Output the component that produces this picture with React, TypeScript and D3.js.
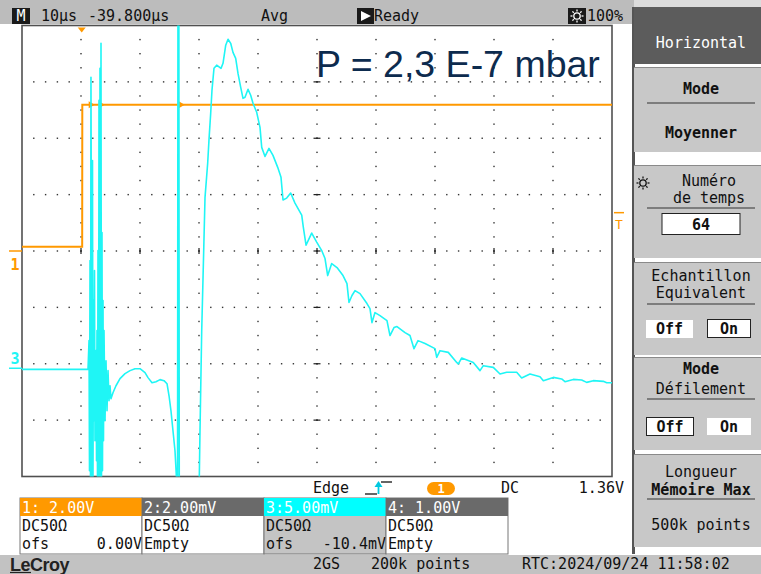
import React from "react";
import * as d3 from "d3";

// ---------------- data ----------------
const timeDomain: [number, number] = [-10, 90]; // µs, 10 µs/div
const divDomain: [number, number] = [-4, 4];

const ch1VoltsPerDiv = 2;
const ch1Offset = 0;
const ch3MilliVoltsPerDiv = 5;
const ch3Offset = -10.4;
const triggerLevel = 1.36;
const triggerTime = 0.12;

const ch1Time = [-10, 0.2, 0.22, 90];
const ch1Volt = [0.15, 0.15, 5.19, 5.19];
const ch1GlitchTimes = [1.81, 3.51, 17.07];

const ch3Time = [
  -10, -5, 0, 1.19,
  1.36, 1.44, 1.53, 1.61, 1.69, 1.78, 1.86, 1.95, 2.03, 2.12, 2.2, 2.29, 2.37, 2.54, 2.63, 2.71,
  2.8, 2.88, 2.97, 3.05, 3.14, 3.22, 3.31, 3.39, 3.47, 3.56, 3.64, 3.73, 3.81, 3.9, 4.07, 4.24,
  4.41, 4.58, 4.75, 4.92, 5.08, 5.42, 5.93, 6.61, 7.46, 8.31, 9.15, 10.0, 10.85, 11.36, 12.03,
  12.71, 13.39, 14.07, 14.58, 14.92, 15.25, 15.59, 15.93, 16.19, 16.36, 16.44, 16.58, 16.66,
  19.83, 20.05, 20.17, 20.46, 20.68, 21.02, 21.47, 21.69, 21.98, 22.2, 22.54, 23.0, 23.73, 24.07,
  24.53, 24.92, 25.37, 25.76, 26.22, 26.61, 27.07, 27.46, 27.8, 28.31, 28.76, 29.15, 29.78,
  30.34, 30.63, 31.19, 31.86, 32.54, 33.34, 33.9, 34.24, 34.86, 35.54, 36.27, 37.41, 37.68,
  38.14, 39.1, 39.95, 40.8, 41.36, 41.81, 42.49, 43.39, 44.41, 45.08, 45.42, 45.93, 46.44,
  47.29, 48.47, 48.98, 49.32, 49.83, 50.68, 51.86, 52.37, 53.05, 53.56, 54.92, 55.76, 56.44,
  57.12, 58.31, 60.0, 60.29, 60.85, 62.25, 63.68, 63.95, 64.53, 66.49, 67.63, 68.19, 69.88,
  71.02, 72.15, 73.85, 74.69, 76.1, 77.8, 78.36, 80.05, 81.47, 82.03, 83.44, 84.86, 85.71,
  86.83, 88.53, 89.1, 90.0,
];
const ch3MilliVolt = [
  -0.1, -0.1, -0.1, -0.1,
  2.45, -9.09, 9.55, -9.98, 25.8, 6.0, -10.5, 18.43, -10.5, 6.0, -4.65, 8.67, -6.43, 1.56, -8.2, 3.34,
  -10.5, 10.44, -10.5, 23.76, -10.5, 26.6, -10.5, 28.82, -10.5, 12.04, -9.09, 6.0, -6.43, 3.34, -4.65, 0.67,
  -3.77, -0.21, -2.88, -1.55, -2.7, -2.17, -1.55, -0.92, -0.48, -0.21, -0.04, -0.04, -0.39, -0.83, -1.28,
  -1.19, -1.01, -1.1, -1.37, -2.44, -3.77, -5.54, -7.32, -9.8, -13.5, 36, 36, -13.5,
  -13.5, -9.71, -5.54, 3.34, 7.97, 15.16, 18.18, 20.23, 22.61, 24.66, 26.6, 26.88, 26.6, 27.05,
  28.65, 29.18, 28.82, 28.02, 27.49, 26.15, 24.92, 23.94, 24.03, 24.74, 24.21, 23.5, 22.7,
  21.37, 19.59, 18.79, 19.5, 18.88, 17.82, 16.93, 14.92, 15.09, 15.54, 14.65, 13.59, 12.52,
  10.92, 11.99, 11.19, 10.44, 9.73, 8.22, 9.29, 8.93, 8.22, 7.51, 5.83, 6.45, 6.89,
  6.62, 5.74, 5.29, 4.05, 4.94, 4.67, 4.23, 2.9, 3.61, 3.7, 3.16, 2.9, 1.74,
  2.45, 2.19, 1.74, 0.97, 1.56, 1.41, 0.52, 0.38, 0.91, 0.52, -0.21, 0.23, 0.08,
  -0.51, -0.36, -0.36, -0.86, -0.51, -0.75, -1.1, -0.81, -0.95, -1.19, -0.99, -1.04, -1.25,
  -1.1, -1.16, -1.28, -1.28,
];

const channelHeaders = ["1: 2.00V", "2:2.00mV", "3:5.00mV", "4: 1.00V"];
const channelCoupling = ["DC50Ω", "DC50Ω", "DC50Ω", "DC50Ω"];
const channelOffsets = ["0.00V", "", "-10.4mV", ""];
const pressureLabel = "P = 2,3 E-7 mbar";

// ---------------- drawing ----------------
const MONO = "'DejaVu Sans Mono', monospace";
const ORANGE = "#ff9900";
const CYAN = "#1ff5f5";

function Sun({ cx, cy, color }: { cx: number; cy: number; color: string }) {
  const rays = d3.range(8).map((i) => {
    const a = (i * Math.PI) / 4;
    return (
      <line key={i} x1={cx + Math.cos(a) * 4.5} y1={cy + Math.sin(a) * 4.5}
        x2={cx + Math.cos(a) * 6.5} y2={cy + Math.sin(a) * 6.5} stroke={color} strokeWidth={1.3} />
    );
  });
  return (
    <g>
      <circle cx={cx} cy={cy} r={3.2} fill="none" stroke={color} strokeWidth={1.3} />
      {rays}
    </g>
  );
}

export default function App() {
  const X0 = 22, X1 = 612, Y0 = 25.5, Y1 = 476.5;
  const x = d3.scaleLinear().domain(timeDomain).range([X0, X1]);
  const yDiv = d3.scaleLinear().domain(divDomain).range([Y1, Y0]);
  const y1 = (v: number) => yDiv((v + ch1Offset) / ch1VoltsPerDiv);
  const y3 = (v: number) => yDiv((v + ch3Offset) / ch3MilliVoltsPerDiv);

  const ch1Path = d3.line<number>().x((_, i) => x(ch1Time[i])).y((v) => y1(v))(ch1Volt) || "";
  const ch3Path = d3.line<number>().x((_, i) => x(ch3Time[i])).y((v) => y3(v))(ch3MilliVolt) || "";

  const majorT = d3.range(1, 10).map((i) => timeDomain[0] + i * 10);
  const majorD = d3.range(-3, 4);
  const subT = d3.range(1, 50).map((i) => timeDomain[0] + i * 2);
  const subD = d3.range(1, 32).map((i) => divDomain[0] + i * 0.25);
  const centerT = 40;

  const dots: JSX.Element[] = [];
  majorT.forEach((t) =>
    subD.forEach((d) => {
      if (Math.abs(d - Math.round(d)) < 1e-6 && d !== 0 && t !== centerT) return;
      dots.push(<rect key={`c${t}_${d}`} x={x(t) - 0.7} y={yDiv(d) - 0.7} width={1.4} height={1.4} fill="#333" />);
    })
  );
  majorD.forEach((d) =>
    subT.forEach((t) => {
      dots.push(<rect key={`r${d}_${t}`} x={x(t) - 0.7} y={yDiv(d) - 0.7} width={1.4} height={1.4} fill="#333" />);
    })
  );
  const centerTicks: JSX.Element[] = [];
  majorD.forEach((d) => {
    centerTicks.push(<line key={`hd${d}`} x1={x(centerT) - 3.5} x2={x(centerT) + 3.5} y1={yDiv(d)} y2={yDiv(d)} stroke="#222" strokeWidth={1.2} />);
  });
  majorT.forEach((t) => {
    centerTicks.push(<line key={`vt${t}`} x1={x(t)} x2={x(t)} y1={yDiv(0) - 3} y2={yDiv(0) + 3} stroke="#222" strokeWidth={1.2} />);
  });

  const boxX = [20, 142, 264, 386];
  const boxW = 122;

  const panelSections = [
    { y: 67, h: 85 },
    { y: 165, h: 93 },
    { y: 262, h: 93 },
    { y: 357, h: 93 },
    { y: 454, h: 93 },
  ];

  const txt = (s: string, px: number, py: number, opts: any = {}) => (
    <text x={px} y={py} fontFamily={MONO} fontSize={opts.size || 15} fill={opts.fill || "#111"}
      fontWeight={opts.bold ? "bold" : "normal"} textAnchor={opts.anchor || "start"}>{s}</text>
  );

  return (
    <svg width={761} height={574} style={{ position: "absolute", left: 0, top: 0 }} fontFamily={MONO}>
      <defs>
        <clipPath id="plotClip">
          <rect x={X0} y={Y0} width={X1 - X0} height={Y1 - Y0} />
        </clipPath>
      </defs>
      <rect x={0} y={0} width={761} height={574} fill="#ffffff" />

      {/* header bar */}
      <rect x={0} y={0} width={634} height={24} fill="#bcbcbc" />
      <rect x={634} y={0} width={127} height={7} fill="#dcdcdc" />
      <rect x={12} y={8} width={18} height={16} fill="#1a1a1a" />
      {txt("M", 21, 21, { fill: "#fff", anchor: "middle" })}
      {txt("10µs", 41, 21)}
      {txt("-39.800µs", 88, 21)}
      {txt("Avg", 261, 21)}
      <rect x={357} y={8} width={17} height={16} fill="#1a1a1a" />
      <path d="M361,11 L371,16 L361,21 Z" fill="#fff" />
      {txt("Ready", 374, 21)}
      <rect x={568} y={8} width={18} height={16} fill="#1a1a1a" />
      <Sun cx={577} cy={16} color="#fff" />
      {txt("100%", 587, 21)}

      {/* grid */}
      {dots}
      {centerTicks}
      <rect x={X0} y={Y0} width={X1 - X0} height={Y1 - Y0} fill="none" stroke="#505050" strokeWidth={1.6} />

      {/* annotation */}
      <text x={316} y={77} fontFamily="'Liberation Sans', Arial, sans-serif" fontSize={37.5} fill="#0d2b4e">{pressureLabel}</text>

      {/* traces */}
      <g clipPath="url(#plotClip)">
        <path d={ch1Path} fill="none" stroke={ORANGE} strokeWidth={2} />
        {ch1GlitchTimes.map((t) => (
          <path key={t} d={`M${x(t) - 3},${y1(5.19) - 3.5} L${x(t) + 3},${y1(5.19)} L${x(t) - 3},${y1(5.19) + 3.5} Z`} fill={ORANGE} />
        ))}
        <path d={ch3Path} fill="none" stroke={CYAN} strokeWidth={1.6} strokeLinejoin="round" />
      </g>

      {/* trigger time marker */}
      <path d={`M${x(triggerTime) - 4},${Y0 + 2} L${x(triggerTime) + 4},${Y0 + 2} L${x(triggerTime)},${Y0 + 7} Z`} fill={ORANGE} />
      {/* trigger level marker */}
      <line x1={614} x2={624} y1={y1(triggerLevel)} y2={y1(triggerLevel)} stroke={ORANGE} strokeWidth={1.5} />
      <text x={619} y={229} fontFamily={MONO} fontSize={13} fill={ORANGE} textAnchor="middle">T</text>

      {/* channel ground markers */}
      <line x1={9} x2={X0} y1={y1(0)} y2={y1(0)} stroke={ORANGE} strokeWidth={1.5} />
      <text x={15} y={270} fontFamily={MONO} fontSize={15} fontWeight="bold" fill={ORANGE} textAnchor="middle">1</text>
      <line x1={9} x2={X0} y1={y3(0)} y2={y3(0)} stroke={CYAN} strokeWidth={1.5} />
      <text x={15} y={364} fontFamily={MONO} fontSize={15} fontWeight="bold" fill={CYAN} textAnchor="middle">3</text>

      {/* trigger row */}
      {txt("Edge", 313, 493)}
      <path d="M365,494 L377,494" stroke="#111" strokeWidth={1.3} />
      <path d="M378.5,494 L378.5,486" stroke="#00c8e0" strokeWidth={1.8} />
      <path d="M374.5,487 L382.5,487 L378.5,481 Z" fill="#00c8e0" />
      <path d="M381,482 L392,482" stroke="#111" strokeWidth={1.3} />
      <rect x={427} y={482} width={28} height={13} rx={6.5} fill={ORANGE} />
      <text x={441} y={493} fontFamily={MONO} fontSize={12} fontWeight="bold" fill="#fff" textAnchor="middle">1</text>
      {txt("DC", 501, 493)}
      {txt("1.36V", 624, 493, { anchor: "end" })}

      {/* channel boxes */}
      {channelHeaders.map((h, i) => {
        const bx = boxX[i];
        const headFill = i === 0 ? ORANGE : i === 2 ? "#00ffff" : "#6a6a6a";
        const bodyFill = i === 2 ? "#c4c4c4" : "#ffffff";
        return (
          <g key={h}>
            <rect x={bx} y={498} width={boxW} height={56} fill={bodyFill} stroke="#777" strokeWidth={1} />
            <rect x={bx} y={498} width={boxW} height={18} fill={headFill} />
            {txt(h, bx + 2, 513, { fill: "#fff" })}
            {txt(channelCoupling[i], bx + 2, 531)}
            {channelOffsets[i]
              ? (<g>{txt("ofs", bx + 2, 549)}{txt(channelOffsets[i], bx + boxW, 549, { anchor: "end" })}</g>)
              : txt("Empty", bx + 2, 549)}
          </g>
        );
      })}

      {/* bottom bar */}
      <rect x={0} y={555} width={761} height={19} fill="#c2c2c2" />
      <text x={10} y={571} fontFamily="'Liberation Sans', Arial, sans-serif" fontSize={18} fontWeight="bold" fill="#222" letterSpacing={-0.5}>LeCroy</text>
      <line x1={10} x2={31} y1={572.5} y2={572.5} stroke="#222" strokeWidth={1.2} />
      {txt("2GS", 313, 569)}
      {txt("200k points", 371, 569)}
      {txt("RTC:2024/09/24 11:58:02", 522, 569)}

      {/* right panel */}
      <rect x={632} y={7} width={3} height={547} fill="#555" />
      <rect x={634} y={7} width={127} height={57} fill="#5c5c5c" />
      {txt("Horizontal", 701, 48, { fill: "#fff", anchor: "middle" })}
      {panelSections.map((s, i) => (
        <g key={i}>
          <rect x={634} y={s.y} width={127} height={s.h} fill="#c8c8c8" />
          <line x1={634} x2={761} y1={s.y + 0.5} y2={s.y + 0.5} stroke="#8a8a8a" />
        </g>
      ))}
      {txt("Mode", 701, 94, { anchor: "middle", bold: true })}
      <line x1={647} x2={755} y1={103} y2={103} stroke="#333" />
      {txt("Moyenner", 701, 138, { anchor: "middle", bold: true })}

      <Sun cx={643} cy={183} color="#111" />
      {txt("Numéro", 709, 186, { anchor: "middle" })}
      {txt("de temps", 709, 203, { anchor: "middle" })}
      <line x1={647} x2={755} y1={208} y2={208} stroke="#333" />
      <rect x={662} y={213.5} width={78} height={21} fill="#fff" stroke="#222" />
      {txt("64", 701, 230, { anchor: "middle", bold: true })}

      {txt("Echantillon", 701, 281, { anchor: "middle" })}
      {txt("Equivalent", 701, 298, { anchor: "middle" })}
      <line x1={647} x2={755} y1={304} y2={304} stroke="#333" />
      <rect x={646} y={320} width={47} height={18} fill="#fff" />
      {txt("Off", 669.5, 334, { anchor: "middle", bold: true })}
      <rect x={707.5} y={319.5} width={43} height={18} fill="#fff" stroke="#222" />
      {txt("On", 729, 334, { anchor: "middle", bold: true })}

      {txt("Mode", 701, 374, { anchor: "middle", bold: true })}
      {txt("Défilement", 701, 394, { anchor: "middle" })}
      <line x1={647} x2={755} y1={399} y2={399} stroke="#333" />
      <rect x={646.5} y={417.5} width={47} height={18} fill="#fff" stroke="#222" />
      {txt("Off", 670, 432, { anchor: "middle", bold: true })}
      <rect x={707} y={418} width={44} height={17} fill="#fff" />
      {txt("On", 729, 432, { anchor: "middle", bold: true })}

      {txt("Longueur", 701, 477, { anchor: "middle" })}
      {txt("Mémoire Max", 701, 495, { anchor: "middle", bold: true })}
      <line x1={647} x2={755} y1={499} y2={499} stroke="#333" />
      {txt("500k points", 701, 530, { anchor: "middle" })}
    </svg>
  );
}
